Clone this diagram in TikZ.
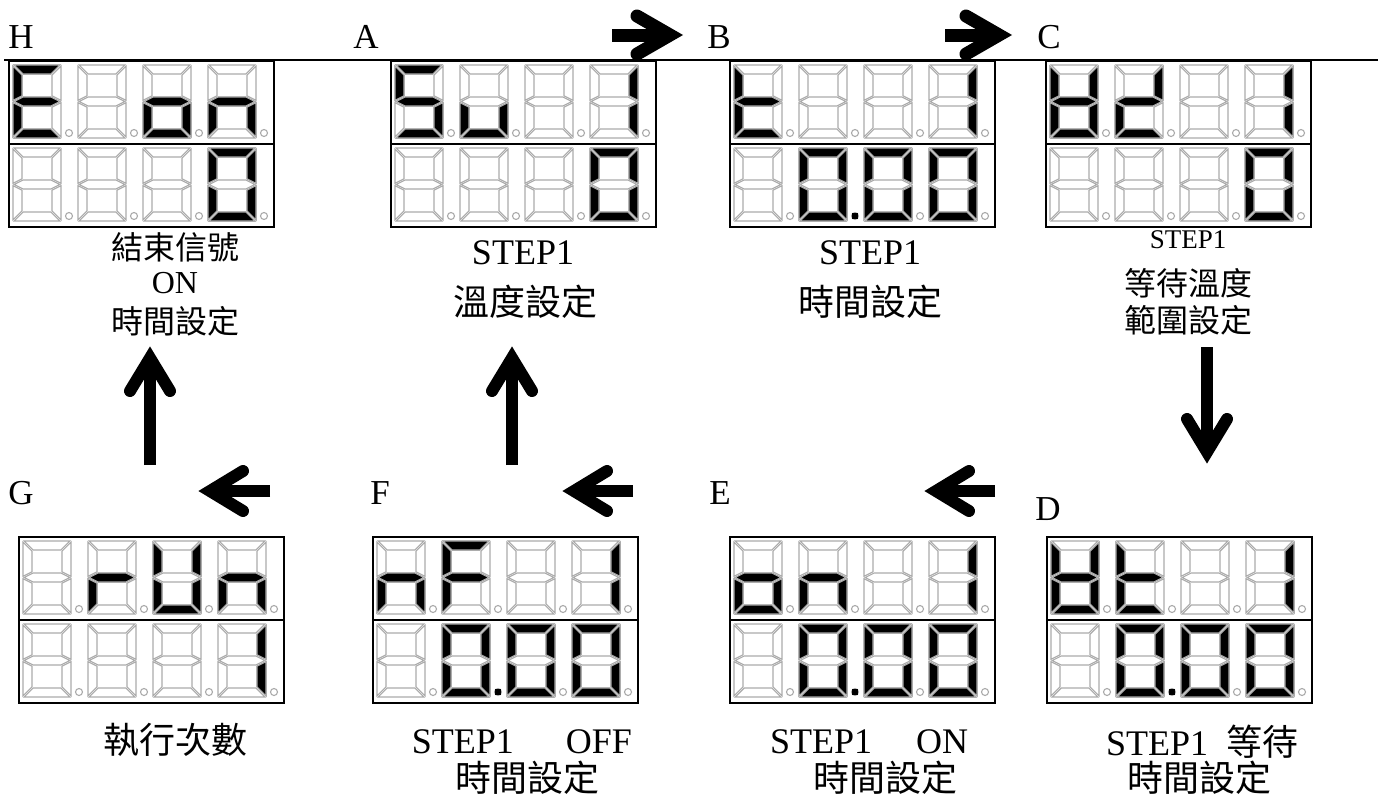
\documentclass[tikz,border=0pt]{standalone}
\usepackage{fontspec}
\setmainfont{Liberation Serif}
\newfontfamily\cjk{Noto Sans CJK TC}
\usetikzlibrary{calc}

\tikzset{
  segoff/.style={draw=black!33, line width=1.1pt, fill=white},
  segon/.style={draw=black!33, line width=1.1pt, fill=black},
  dpoff/.style={draw=black!33, line width=1.1pt, fill=white},
  dpon/.style={fill=black},
  dispframe/.style={draw=black, line width=2pt, minimum width=265pt, minimum height=166pt, inner sep=0pt, fill=white},
  divider/.style={draw=black, line width=2pt},
  toprule/.style={draw=black, line width=2.5pt},
  shaft/.style={line width=12pt, line cap=butt},
  head/.style={line width=12pt, line cap=round, line join=miter},
  bigshaft/.style={line width=13pt, line cap=butt},
  bighead/.style={line width=13pt, line cap=round, line join=miter},
  lbl/.style={font=\fontsize{35}{38}\selectfont, inner sep=0pt},
  captxt/.style={font=\fontsize{36}{40}\selectfont, inner sep=0pt},
  capsm/.style={font=\fontsize{32}{36}\selectfont, inner sep=0pt},
  captiny/.style={font=\fontsize{27}{30}\selectfont, inner sep=0pt},
}

% seven segments of one digit, origin at its top-left, y grows downwards
\newcommand\dsega[1]{\path[#1] (1.2,0) -- (46.8,0) -- (37.8,9) -- (10.2,9) -- cycle;}
\newcommand\dsegb[1]{\path[#1] (48,1.2) -- (48,35.3) -- (39,30.8) -- (39,10.2) -- cycle;}
\newcommand\dsegc[1]{\path[#1] (48,37.7) -- (48,71.8) -- (39,62.8) -- (39,42.2) -- cycle;}
\newcommand\dsegd[1]{\path[#1] (1.2,73) -- (10.2,64) -- (37.8,64) -- (46.8,73) -- cycle;}
\newcommand\dsege[1]{\path[#1] (0,37.7) -- (9,42.2) -- (9,62.8) -- (0,71.8) -- cycle;}
\newcommand\dsegf[1]{\path[#1] (0,1.2) -- (9,10.2) -- (9,30.8) -- (0,35.3) -- cycle;}
\newcommand\dsegg[1]{\path[#1] (1.2,36.5) -- (10.2,32) -- (37.8,32) -- (46.8,36.5) -- (37.8,41) -- (10.2,41) -- cycle;}

\newcommand\blankdigit{\dsega{segoff}\dsegb{segoff}\dsegc{segoff}\dsegd{segoff}\dsege{segoff}\dsegf{segoff}\dsegg{segoff}%
  \path[dpoff] (56,68) circle[radius=3.5];}

% display: name, left, top
\newcommand\display[3]{%
  \node[dispframe, anchor=north west] (#1) at (#2,#3) {};
  \draw[divider] (#1.west) -- (#1.east);
  \foreach \rw in {0,1}{\foreach \ci in {0,1,2,3}{%
    \begin{scope}[shift={({#2+5+65*\ci},{#3+5+83*\rw})}]
      \blankdigit
    \end{scope}}}
}
% lit segments: left, top, row, digit, list of segments
\newcommand\litdig[5]{%
  \begin{scope}[shift={({#1+5+65*#4},{#2+5+83*#3})}]
    \foreach \sg in {#5}{\csname dseg\sg\endcsname{segon}}
  \end{scope}}
% lit decimal point: left, top, row, digit
\newcommand\litdot[4]{%
  \path[dpon] ({#1+5+65*#4+53},{#2+5+83*#3+65}) rectangle +(6,6);}

\begin{document}
\begin{tikzpicture}[x=1pt,y=-1pt]
\useasboundingbox (0,0) rectangle (1383,798);

% top rule
\coordinate (ruleL) at (4,60);
\coordinate (ruleR) at (1378,60);

% displays
\display{H}{8}{60}
\display{A}{390}{60}
\display{B}{729}{60}
\display{C}{1045}{60}
\display{G}{18}{536}
\display{F}{372}{536}
\display{E}{729}{536}
\display{D}{1046}{536}
\draw[toprule] (ruleL) -- (ruleR);

% H : E.on / 0
\litdig{8}{60}{0}{0}{a,d,e,f,g}
\litdig{8}{60}{0}{2}{c,d,e,g}
\litdig{8}{60}{0}{3}{c,e,g}
\litdig{8}{60}{1}{3}{a,b,c,d,e,f}
% A : Su 1 / 0
\litdig{390}{60}{0}{0}{a,c,d,f,g}
\litdig{390}{60}{0}{1}{c,d,e}
\litdig{390}{60}{0}{3}{b,c}
\litdig{390}{60}{1}{3}{a,b,c,d,e,f}
% B : t 1 / 0.00
\litdig{729}{60}{0}{0}{d,e,f,g}
\litdig{729}{60}{0}{3}{b,c}
\litdig{729}{60}{1}{1}{a,b,c,d,e,f}
\litdig{729}{60}{1}{2}{a,b,c,d,e,f}
\litdig{729}{60}{1}{3}{a,b,c,d,e,f}
\litdot{729}{60}{1}{1}
% C
\litdig{1045}{60}{0}{0}{b,c,d,e,f,g}
\litdig{1045}{60}{0}{1}{b,d,e,g}
\litdig{1045}{60}{0}{3}{b,c}
\litdig{1045}{60}{1}{3}{a,b,c,d,e,f}
% G : run / 1
\litdig{18}{536}{0}{1}{e,g}
\litdig{18}{536}{0}{2}{b,c,d,e,f}
\litdig{18}{536}{0}{3}{c,e,g}
\litdig{18}{536}{1}{3}{b,c}
% F
\litdig{372}{536}{0}{0}{c,e,g}
\litdig{372}{536}{0}{1}{a,e,f,g}
\litdig{372}{536}{0}{3}{b,c}
\litdig{372}{536}{1}{1}{a,b,c,d,e,f}
\litdig{372}{536}{1}{2}{a,b,c,d,e,f}
\litdig{372}{536}{1}{3}{a,b,c,d,e,f}
\litdot{372}{536}{1}{1}
% E
\litdig{729}{536}{0}{0}{c,d,e,g}
\litdig{729}{536}{0}{1}{c,e,g}
\litdig{729}{536}{0}{3}{b,c}
\litdig{729}{536}{1}{1}{a,b,c,d,e,f}
\litdig{729}{536}{1}{2}{a,b,c,d,e,f}
\litdig{729}{536}{1}{3}{a,b,c,d,e,f}
\litdot{729}{536}{1}{1}
% D
\litdig{1046}{536}{0}{0}{b,c,d,e,f,g}
\litdig{1046}{536}{0}{1}{d,e,f,g}
\litdig{1046}{536}{0}{3}{b,c}
\litdig{1046}{536}{1}{1}{a,b,c,d,e,f}
\litdig{1046}{536}{1}{2}{a,b,c,d,e,f}
\litdig{1046}{536}{1}{3}{a,b,c,d,e,f}
\litdot{1046}{536}{1}{1}

% letters
\node[lbl] (labH) at (21,37) {H};
\node[lbl] (labA) at (366,37) {A};
\node[lbl] (labB) at (719,37) {B};
\node[lbl] (labC) at (1049,37) {C};
\node[lbl] (labG) at (21,493) {G};
\node[lbl] (labF) at (380,493) {F};
\node[lbl] (labE) at (720,493) {E};
\node[lbl] (labD) at (1048,509) {D};

% captions
\node[capsm] (tH1) at (175,247) {\cjk 結束信號};
\node[capsm] (tH2) at (175,283) {ON};
\node[capsm] (tH3) at (175,321) {\cjk 時間設定};
\node[captxt] (tA1) at (523,253) {STEP1};
\node[captxt] (tA2) at (525,302) {\cjk 溫度設定};
\node[captxt] (tB1) at (870,253) {STEP1};
\node[captxt] (tB2) at (870,302) {\cjk 時間設定};
\node[captiny] (tC1) at (1188,240) {STEP1};
\node[capsm] (tC2) at (1188,283) {\cjk 等待溫度};
\node[capsm] (tC3) at (1188,320) {\cjk 範圍設定};
\node[captxt] (tG1) at (175,740) {\cjk 執行次數};
\node[captxt] (tF1) at (522,742) {STEP1\hspace{52pt}OFF};
\node[captxt] (tF2) at (527,778) {\cjk 時間設定};
\node[captxt] (tE1) at (869,742) {STEP1\hspace{44pt}ON};
\node[captxt] (tE2) at (885,778) {\cjk 時間設定};
\node[captxt] (tD1) at (1202,742) {STEP1\hspace{18pt}{\cjk 等待}};
\node[captxt] (tD2) at (1199,778) {\cjk 時間設定};

% arrows: A -> B, B -> C
\coordinate (abS) at (612,35); \coordinate (abT) at (670,35);
\draw[bigshaft] (abS) -- (abT);
\draw[bighead] ($(abT)+(-33,-19)$) -- (abT) -- ($(abT)+(-33,19)$);
\coordinate (bcS) at (945,35); \coordinate (bcT) at (999,35);
\draw[bigshaft] (bcS) -- (bcT);
\draw[bighead] ($(bcT)+(-33,-19)$) -- (bcT) -- ($(bcT)+(-33,19)$);
% C down to D
\coordinate (cdS) at (1207,347); \coordinate (cdT) at (1207,452);
\draw[shaft] (cdS) -- (cdT);
\draw[head] ($(cdT)+(-20,-33)$) -- (cdT) -- ($(cdT)+(20,-33)$);
% D -> E, E -> F, F -> G (leftwards)
\coordinate (deS) at (995,491); \coordinate (deT) at (936,491);
\draw[shaft] (deS) -- (deT);
\draw[head] ($(deT)+(33,-20)$) -- (deT) -- ($(deT)+(33,20)$);
\coordinate (efS) at (633,491); \coordinate (efT) at (574,491);
\draw[shaft] (efS) -- (efT);
\draw[head] ($(efT)+(33,-20)$) -- (efT) -- ($(efT)+(33,20)$);
\coordinate (fgS) at (270,491); \coordinate (fgT) at (210,491);
\draw[shaft] (fgS) -- (fgT);
\draw[head] ($(fgT)+(33,-20)$) -- (fgT) -- ($(fgT)+(33,20)$);
% G up to H, F up to A
\coordinate (ghS) at (150,465); \coordinate (ghT) at (150,358);
\draw[shaft] (ghS) -- (ghT);
\draw[head] ($(ghT)+(-20,33)$) -- (ghT) -- ($(ghT)+(20,33)$);
\coordinate (faS) at (512,465); \coordinate (faT) at (512,358);
\draw[shaft] (faS) -- (faT);
\draw[head] ($(faT)+(-20,33)$) -- (faT) -- ($(faT)+(20,33)$);
\end{tikzpicture}
\end{document}
